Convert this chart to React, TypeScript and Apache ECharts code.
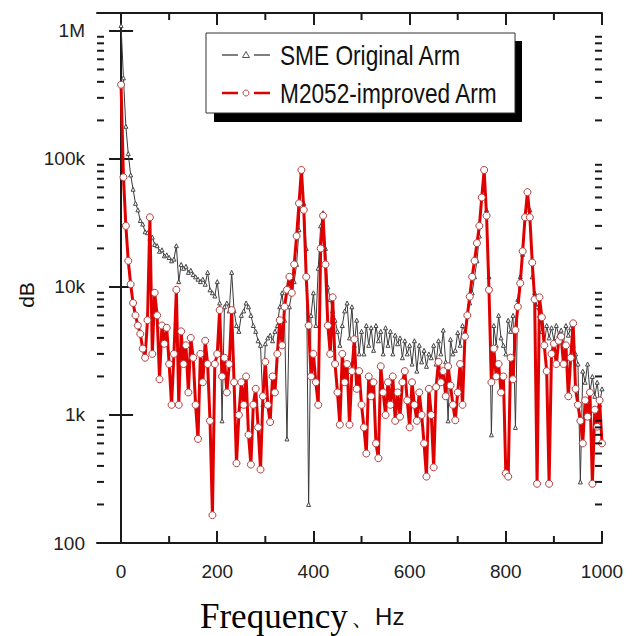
import React, { useEffect, useRef } from 'react';
import * as echarts from 'echarts';

// sampling step of both spectra (Hz)
const FREQ_STEP = 5;
const X_MIN = -50;
const X_MAX = 1000;
const Y_MIN = 100;
const Y_MAX = 1380000;

const X_MAJOR = [0, 200, 400, 600, 800, 1000];
const X_MINOR = [100, 300, 500, 700, 900];
const Y_LABELS = ['100', '1k', '10k', '100k', '1M'];
const Y_MINOR = [
  200, 300, 400, 500, 600, 700, 800, 900,
  2000, 3000, 4000, 5000, 6000, 7000, 8000, 9000,
  20000, 30000, 40000, 50000, 60000, 70000, 80000, 90000,
  200000, 300000, 400000, 500000, 600000, 700000, 800000, 900000,
];

// SME Original Arm, 0..1000 Hz every 5 Hz
const SME_000 = [1100000, 430000, 180000, 110000, 75000, 58000, 45000, 40000, 33000, 31000, 27000, 26500, 24000, 24500, 21500, 21000, 19000, 19500, 17500, 17800];
const SME_100 = [17000, 16000, 16500, 21000, 11000, 15000, 14000, 14500, 13000, 13500, 12500, 12000, 11500, 11000, 11500, 10500, 13000, 9500, 9000, 8500];
const SME_200 = [11000, 7500, 900, 7000, 7500, 6500, 13000, 6500, 5000, 4500, 6000, 6500, 7500, 7000, 6000, 5000, 4500, 3800, 3500, 1200];
const SME_300 = [3600, 4000, 4200, 3800, 4500, 5000, 7000, 9000, 5500, 650, 7000, 9000, 11000, 15000, 28000, 80000, 45000, 20000, 200, 6000];
const SME_400 = [9000, 5000, 14000, 30000, 38000, 20000, 10000, 8000, 6500, 5500, 4500, 3500, 5000, 6500, 7500, 4000, 7000, 3500, 5500, 3000];
const SME_500 = [4500, 3000, 5000, 3500, 4800, 3200, 5000, 3800, 4500, 3000, 4800, 3500, 4500, 3000, 4200, 3600, 4000, 2800, 3800, 3000];
const SME_600 = [3500, 2500, 3800, 2200, 3500, 2600, 3200, 2400, 3000, 2800, 3500, 2500, 3800, 3000, 4600, 2600, 900, 3900, 3000, 3200];
const SME_700 = [4400, 3500, 5000, 4500, 6000, 7500, 9000, 12000, 16000, 25000, 50000, 82000, 40000, 12000, 700, 5000, 3500, 6000, 4000, 3500];
const SME_800 = [3000, 5500, 4500, 6000, 800, 8000, 12000, 18000, 35000, 55000, 40000, 12000, 9000, 7000, 6000, 4500, 3500, 5000, 4000, 4800];
const SME_900 = [3800, 5000, 4200, 4600, 3600, 5000, 4200, 4800, 3500, 3000, 2500, 300, 2200, 1800, 2500, 1500, 2000, 1400, 1800, 1200, 1600];

// M2052-improved Arm, 0..1000 Hz every 5 Hz
const M2052_000 = [380000, 72000, 30000, 16000, 10500, 7500, 6000, 5000, 4300, 3300, 2800, 5500, 35000, 3000, 9000, 6000, 1900, 5000, 3600, 4800];
const M2052_100 = [2500, 1200, 3000, 9500, 1200, 4500, 2500, 3500, 1500, 4000, 2800, 1200, 650, 3000, 1800, 3800, 2500, 900, 165, 2500];
const M2052_200 = [3000, 6600, 2000, 2800, 1500, 2500, 6600, 1800, 420, 1000, 1800, 1200, 2000, 700, 410, 1200, 1600, 800, 375, 1400];
const M2052_300 = [2600, 1200, 880, 2000, 1500, 3000, 5500, 3500, 7000, 9500, 12000, 9000, 15000, 25000, 45000, 82000, 40000, 12000, 5000, 2000];
const M2052_400 = [3000, 1800, 1200, 20000, 36000, 15000, 5000, 3000, 8300, 2500, 1500, 840, 3000, 1800, 2500, 840, 2200, 3900, 1600, 2200];
const M2052_500 = [1200, 800, 500, 2000, 1400, 1800, 600, 460, 2400, 1500, 1000, 1800, 1200, 2000, 900, 1500, 970, 1800, 2200, 1300];
const M2052_600 = [800, 1800, 1200, 900, 1500, 1000, 600, 330, 1600, 1000, 390, 1650, 2600, 1800, 2200, 1400, 2400, 1700, 1200, 910];
const M2052_700 = [1500, 2500, 1200, 4100, 6000, 8400, 12000, 16000, 22000, 30000, 50000, 82000, 36000, 9500, 1800, 3300, 2000, 2500, 1500, 2000];
const M2052_800 = [350, 330, 2800, 1900, 4600, 7000, 10700, 19000, 35000, 55000, 35000, 15500, 8000, 290, 8300, 5800, 3500, 2200, 290, 3000];
const M2052_900 = [3600, 2500, 3800, 4100, 2500, 3500, 1400, 2800, 5200, 1600, 1200, 900, 600, 1300, 970, 1500, 290, 1100, 810, 1300, 600];

const SME = [...SME_000, ...SME_100, ...SME_200, ...SME_300, ...SME_400, ...SME_500, ...SME_600, ...SME_700, ...SME_800, ...SME_900];
const M2052 = [...M2052_000, ...M2052_100, ...M2052_200, ...M2052_300, ...M2052_400, ...M2052_500, ...M2052_600, ...M2052_700, ...M2052_800, ...M2052_900];

const SANS = '"Liberation Sans", Arial, sans-serif';
const AXIS_COLOR = '#1a1a1a';

export default function App() {
  const ref = useRef<HTMLDivElement>(null);

  useEffect(() => {
    document.body.style.margin = '0';
    if (!ref.current) return;
    const chart = echarts.init(ref.current, null, { renderer: 'svg' });

    const toPairs = (arr: number[]) => arr.map((v, i) => [i * FREQ_STEP, v]);

    const axisLine = { show: true, lineStyle: { color: AXIS_COLOR, width: 2 } };
    const tickStyle = { color: AXIS_COLOR, width: 2 };

    const option: any = {
      animation: false,
      backgroundColor: '#ffffff',
      grid: { left: 97, top: 13, right: 33, bottom: 93, containLabel: false },
      xAxis: [
        {
          type: 'value', position: 'bottom', min: X_MIN, max: X_MAX,
          axisLine,
          axisTick: { show: true, inside: true, length: 12, customValues: X_MAJOR, lineStyle: tickStyle },
          axisLabel: {
            show: true, customValues: X_MAJOR, fontSize: 19, fontFamily: SANS, color: '#222', margin: 19,
            formatter: (v: number) => String(v),
          },
          splitLine: { show: false },
        },
        {
          type: 'value', position: 'top', min: X_MIN, max: X_MAX,
          axisLine,
          axisTick: { show: true, inside: true, length: 12, customValues: X_MAJOR, lineStyle: tickStyle },
          axisLabel: { show: false },
          splitLine: { show: false },
        },
      ],
      yAxis: [
        {
          type: 'log', logBase: 10, position: 'left', min: Y_MIN, max: Y_MAX,
          axisLine,
          axisTick: { show: true, inside: true, length: 12, lineStyle: tickStyle },
          axisLabel: {
            show: true, fontSize: 19, fontFamily: SANS, color: '#222', margin: 12,
            formatter: (v: number) => {
              const e = Math.log10(v);
              const n = Math.round(e);
              if (Math.abs(e - n) > 1e-6) return '';
              return Y_LABELS[n - 2] ?? '';
            },
          },
          splitLine: { show: false },
        },
        {
          type: 'log', logBase: 10, position: 'right', min: Y_MIN, max: Y_MAX,
          axisLine,
          axisTick: { show: true, inside: true, length: 12, lineStyle: tickStyle },
          axisLabel: { show: false },
          splitLine: { show: false },
        },
      ],
      series: [
        {
          name: 'SME Original Arm',
          type: 'line',
          data: toPairs(SME),
          xAxisIndex: 0, yAxisIndex: 0,
          showAllSymbol: true,
          symbol: 'triangle',
          symbolSize: 4,
          lineStyle: { color: '#3a3a3a', width: 1 },
          itemStyle: { color: '#ffffff', borderColor: '#444', borderWidth: 1 },
          z: 2,
        },
        {
          name: 'M2052-improved Arm',
          type: 'line',
          data: toPairs(M2052),
          xAxisIndex: 0, yAxisIndex: 0,
          showAllSymbol: true,
          symbol: 'circle',
          symbolSize: 7,
          lineStyle: { color: '#e10000', width: 3 },
          itemStyle: { color: '#ffffff', borderColor: '#b04040', borderWidth: 1 },
          z: 3,
        },
        {
          name: 'yMinorTicks',
          type: 'custom',
          xAxisIndex: 0, yAxisIndex: 0,
          silent: true,
          z: 5,
          data: Y_MINOR.map((v) => [X_MIN, v]),
          renderItem: (_p: any, api: any) => {
            const v = api.value(1);
            const l = api.coord([X_MIN, v]);
            const r = api.coord([X_MAX, v]);
            return {
              type: 'group',
              children: [
                { type: 'line', shape: { x1: l[0], y1: l[1], x2: l[0] + 7, y2: l[1] }, style: { stroke: AXIS_COLOR, lineWidth: 2 } },
                { type: 'line', shape: { x1: r[0] - 7, y1: r[1], x2: r[0], y2: r[1] }, style: { stroke: AXIS_COLOR, lineWidth: 2 } },
              ],
            };
          },
        },
        {
          name: 'xMinorTicks',
          type: 'custom',
          xAxisIndex: 0, yAxisIndex: 0,
          silent: true,
          z: 5,
          data: X_MINOR.map((v) => [v, Y_MIN]),
          renderItem: (_p: any, api: any) => {
            const v = api.value(0);
            const b = api.coord([v, Y_MIN]);
            const t = api.coord([v, Y_MAX]);
            return {
              type: 'group',
              children: [
                { type: 'line', shape: { x1: b[0], y1: b[1], x2: b[0], y2: b[1] - 7 }, style: { stroke: AXIS_COLOR, lineWidth: 2 } },
                { type: 'line', shape: { x1: t[0], y1: t[1], x2: t[0], y2: t[1] + 7 }, style: { stroke: AXIS_COLOR, lineWidth: 2 } },
              ],
            };
          },
        },
      ],
      graphic: [
        // legend box with drop shadow
        { type: 'rect', z: 100, shape: { x: 214, y: 41, width: 308, height: 81 }, style: { fill: '#000' } },
        { type: 'rect', z: 101, shape: { x: 206, y: 33, width: 309, height: 80 }, style: { fill: '#fff', stroke: '#333', lineWidth: 1 } },
        { type: 'line', z: 102, shape: { x1: 222, y1: 55, x2: 270, y2: 55 }, style: { stroke: '#555', lineWidth: 1.5, lineDash: [16, 16] } },
        { type: 'polygon', z: 103, shape: { points: [[246, 51.5], [249.5, 57.5], [242.5, 57.5]] }, style: { fill: '#fff', stroke: '#555', lineWidth: 1 } },
        { type: 'text', z: 103, x: 280, y: 55, scaleX: 0.81, style: { text: 'SME Original Arm', font: `28px ${SANS}`, fill: '#111', verticalAlign: 'middle', align: 'left' } },
        { type: 'line', z: 102, shape: { x1: 222, y1: 93, x2: 270, y2: 93 }, style: { stroke: '#e10000', lineWidth: 2.5, lineDash: [16, 16] } },
        { type: 'circle', z: 103, shape: { cx: 246, cy: 93, r: 3 }, style: { fill: '#fff', stroke: '#c04040', lineWidth: 1 } },
        { type: 'text', z: 103, x: 280, y: 93, scaleX: 0.81, style: { text: 'M2052-improved Arm', font: `28px ${SANS}`, fill: '#111', verticalAlign: 'middle', align: 'left' } },
        // y axis title
        { type: 'text', x: 26, y: 295, rotation: Math.PI / 2, style: { text: 'dB', font: `21px ${SANS}`, fill: '#111', align: 'center', verticalAlign: 'middle' } },
        // x axis title
        {
          type: 'text', x: 200, y: 616,
          style: {
            text: '{f|Frequency} {h|、Hz}',
            verticalAlign: 'middle', align: 'left',
            rich: {
              f: { fontFamily: '"Liberation Serif", "Times New Roman", serif', fontSize: 35, fill: '#000' },
              h: { fontFamily: SANS, fontSize: 24, fill: '#111' },
            },
          },
        },
      ],
    };

    chart.setOption(option);
    return () => chart.dispose();
  }, []);

  return <div ref={ref} style={{ width: 635, height: 636 }} />;
}
